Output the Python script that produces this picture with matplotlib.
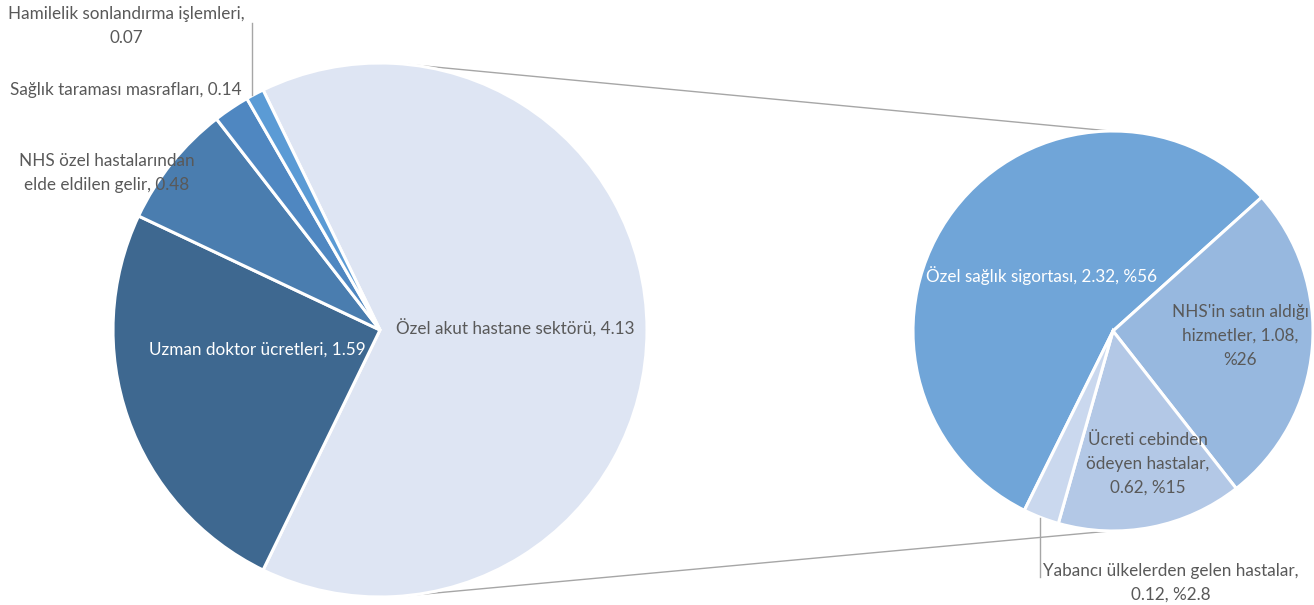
import matplotlib.pyplot as plt
import numpy as np

plt.rcParams['font.family'] = ['Lato', 'DejaVu Sans']

# main pie (the first slice is the combined "other" slice)
main_labels = ['Özel akut hastane sektörü', 'Uzman doktor ücretleri',
               'NHS özel hastalarından\nelde eldilen gelir',
               'Sağlık taraması masrafları', 'Hamilelik sonlandırma işlemleri,\n']
main_values = [4.13, 1.59, 0.48, 0.14, 0.07]
main_colors = ['#DEE5F3', '#3E6890', '#4A7DAF', '#4F87C1', '#5B9BD5']

# secondary pie (breakdown of the first slice)
sub_labels = ['Özel sağlık sigortası', "NHS'in satın aldığı\nhizmetler",
              'Ücreti cebinden\nödeyen hastalar', 'Yabancı ülkelerden gelen hastalar,\n']
sub_values = [2.32, 1.08, 0.62, 0.12]
sub_pct = ['%56', '%26', '%15', '%2.8']
sub_colors = ['#70A5D8', '#97B8DF', '#B3C8E6', '#CAD8EE']

W, H = 1314, 605
fig = plt.figure(figsize=(W / 100, H / 100), dpi=100)
ax = fig.add_axes([0, 0, 1, 1])

c1, r1 = (380, H - 330), 267
c2, r2 = (1113, H - 331), 200

frac = main_values[0] / sum(main_values)
ax.pie(main_values, colors=main_colors, center=c1, radius=r1,
       startangle=frac * 180, counterclock=False,
       wedgeprops=dict(edgecolor='white', linewidth=2.2))
ax.pie(sub_values, colors=sub_colors, center=c2, radius=r2,
       startangle=243.7, counterclock=False,
       wedgeprops=dict(edgecolor='white', linewidth=2.2))

# series lines between the two pies
for a1, a2 in [(84, 90), (-84, -90)]:
    p1 = (c1[0] + r1 * np.cos(np.radians(a1)), c1[1] + r1 * np.sin(np.radians(a1)))
    p2 = (c2[0] + r2 * np.cos(np.radians(a2)) - 3, c2[1] + r2 * np.sin(np.radians(a2)))
    ax.plot([p1[0], p2[0]], [p1[1], p2[1]], color='#A6A6A6', lw=1, zorder=0)

gray = '#595959'
fs = 12.3
ls = 1.6

main_text = [
    (f'{main_labels[0]}, {main_values[0]}', (515, 328), gray),
    (f'{main_labels[1]}, {main_values[1]}', (257, 350), 'white'),
    (f'{main_labels[2]}, {main_values[2]}', (107, 173), gray),
    (f'{main_labels[3]}, {main_values[3]}', (126, 90), gray),
    (f'{main_labels[4]}{main_values[4]}', (126, 26), gray),
]
for txt, (x, y), col in main_text:
    ax.text(x, H - y, txt, ha='center', va='center', color=col,
            fontsize=fs, linespacing=ls)

sub_text = [
    (f'{sub_labels[0]}, {sub_values[0]}, {sub_pct[0]}', (1042, 276), 'white'),
    (f'{sub_labels[1]}, {sub_values[1]},\n{sub_pct[1]}', (1240, 336), gray),
    (f'{sub_labels[2]},\n{sub_values[2]}, {sub_pct[2]}', (1148, 464), gray),
    (f'{sub_labels[3]}{sub_values[3]}, {sub_pct[3]}', (1171, 583), gray),
]
for txt, (x, y), col in sub_text:
    ax.text(x, H - y, txt, ha='center', va='center', color=col,
            fontsize=fs, linespacing=ls)

# leader lines for the small slices
ax.plot([252, 252], [H - 23, H - 95], color='#A6A6A6', lw=1)
ax.plot([1040, 1040], [H - 518, H - 577], color='#A6A6A6', lw=1)

ax.set_xlim(0, W)
ax.set_ylim(0, H)
ax.set_aspect('equal')
ax.axis('off')

fig.savefig('out.png', dpi=100, facecolor='white')
